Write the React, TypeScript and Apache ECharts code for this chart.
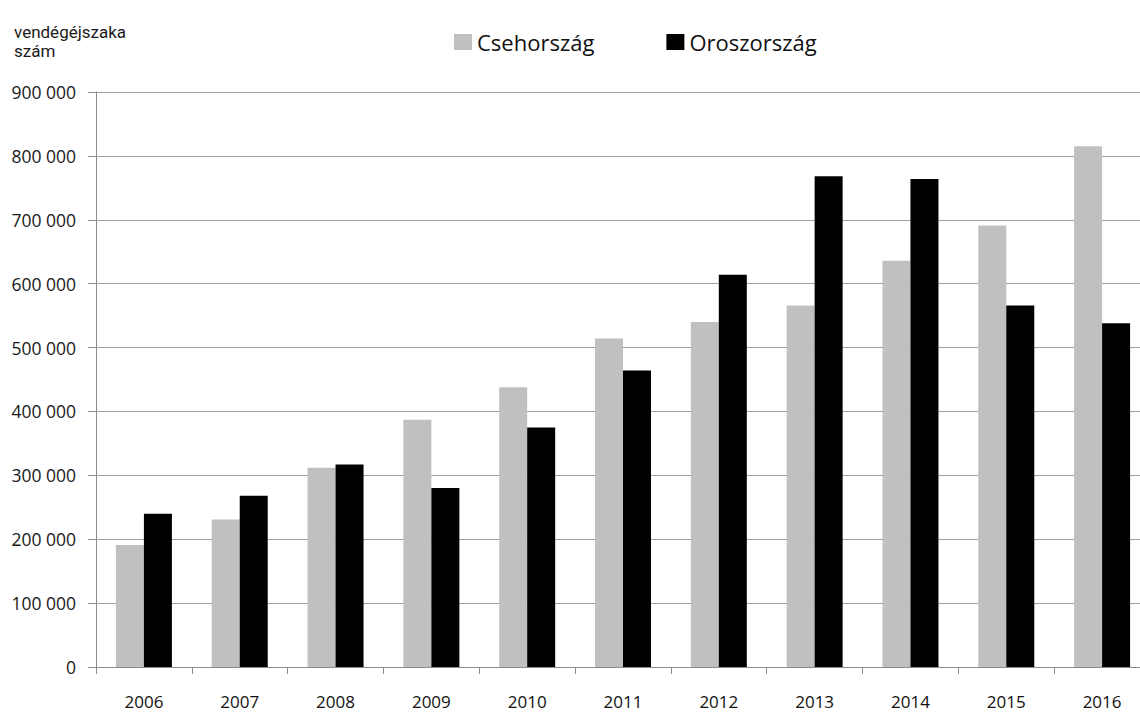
import React, { useEffect, useRef } from "react";
import * as echarts from "echarts";

const years = ["2006", "2007", "2008", "2009", "2010", "2011", "2012", "2013", "2014", "2015", "2016"];
const czech = [191000, 231000, 312000, 387000, 438000, 514000, 540000, 566000, 636000, 691000, 815000];
const russia = [240000, 268000, 317000, 280000, 375000, 464000, 614000, 768000, 764000, 566000, 538000];
const seriesNames = ["Csehország", "Oroszország"];
const yTitle = "vendégéjszaka\nszám";

export default function App() {
  const ref = useRef<HTMLDivElement>(null);
  useEffect(() => {
    document.body.style.margin = "0";
    const chart = echarts.init(ref.current!, null, { renderer: "svg" });
    chart.setOption({
      animation: false,
      backgroundColor: "#ffffff",
      title: {
        text: yTitle,
        left: 9,
        top: 17,
        textStyle: {
          fontFamily: "Roboto",
          fontSize: 17,
          fontWeight: "normal",
          color: "#1a1a1a",
          lineHeight: 19,
        },
      },
      legend: {
        left: 449,
        top: 26,
        itemWidth: 18,
        itemHeight: 16,
        itemGap: 72,
        icon: "rect",
        textStyle: { fontFamily: "Open Sans", fontSize: 22, color: "#111" },
        data: seriesNames,
      },
      grid: { left: 96, right: 0, top: 92, bottom: 46 },
      xAxis: {
        type: "category",
        data: years,
        axisLine: { lineStyle: { color: "#8c8c8c", width: 1 } },
        axisTick: { show: true, length: 7, lineStyle: { color: "#8c8c8c" } },
        axisLabel: { margin: 26, fontFamily: "Open Sans", fontSize: 17, color: "#111" },
      },
      yAxis: {
        type: "value",
        min: 0,
        max: 900000,
        interval: 100000,
        axisLine: { show: true, lineStyle: { color: "#8c8c8c", width: 1 } },
        axisTick: { show: true, length: 8, lineStyle: { color: "#8c8c8c" } },
        splitLine: { lineStyle: { color: "#a0a0a0", width: 1 } },
        axisLabel: {
          margin: 20,
          fontFamily: "Open Sans",
          fontSize: 17.5,
          color: "#1a1a1a",
          formatter: (v: number) => String(v).replace(/\B(?=(\d{3})+(?!\d))/g, " "),
        },
      },
      series: [
        {
          name: seriesNames[0],
          type: "bar",
          data: czech,
          barWidth: 28,
          barGap: "0%",
          itemStyle: { color: "#c0c0c0" },
        },
        {
          name: seriesNames[1],
          type: "bar",
          data: russia,
          barWidth: 28,
          barGap: "0%",
          itemStyle: { color: "#000000" },
        },
      ],
    });
    return () => chart.dispose();
  }, []);
  return (
    <div style={{ width: 1140, height: 713, overflow: "hidden", position: "relative" }}>
      <div ref={ref} style={{ width: 1150, height: 713 }} />
    </div>
  );
}
